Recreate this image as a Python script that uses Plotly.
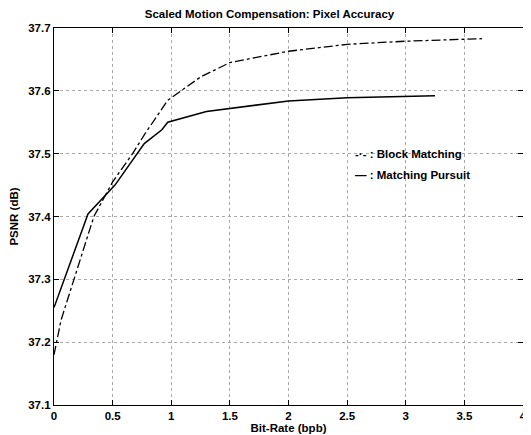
import plotly.graph_objects as go

# Data
bm_rate = [0.0, 0.06, 0.34, 0.5, 0.67, 0.77, 0.97, 1.25, 1.5, 2.0, 2.5, 3.0, 3.65]
bm_psnr = [37.18, 37.235, 37.40, 37.455, 37.50, 37.53, 37.585, 37.622, 37.645, 37.663, 37.674, 37.679, 37.683]

mp_rate = [0.0, 0.29, 0.52, 0.71, 0.77, 0.92, 0.97, 1.3, 1.5, 2.0, 2.5, 3.0, 3.25]
mp_psnr = [37.255, 37.404, 37.45, 37.50, 37.516, 37.538, 37.55, 37.567, 37.572, 37.584, 37.589, 37.591, 37.592]

x_ticks = [0, 0.5, 1, 1.5, 2, 2.5, 3, 3.5, 4]
y_ticks = [37.1, 37.2, 37.3, 37.4, 37.5, 37.6, 37.7]

legend_labels = ["-·- : Block Matching", "— : Matching Pursuit"]

font = dict(family="Liberation Sans, Arial, sans-serif", size=11.5, color="black", weight="bold")

fig = go.Figure()
fig.add_trace(go.Scatter(x=bm_rate, y=bm_psnr, mode="lines", name="Block Matching",
                         line=dict(color="black", width=1.3, dash="dashdot")))
fig.add_trace(go.Scatter(x=mp_rate, y=mp_psnr, mode="lines", name="Matching Pursuit",
                         line=dict(color="black", width=1.5)))

fig.add_annotation(x=2.55, y=37.5, text=legend_labels[0], showarrow=False,
                   xanchor="left", yanchor="middle", font=font)
fig.add_annotation(x=2.55, y=37.466, text=legend_labels[1], showarrow=False,
                   xanchor="left", yanchor="middle", font=font)

axis_common = dict(showline=True, linecolor="black", linewidth=1.3, mirror="ticks",
                   ticks="inside", ticklen=5, tickcolor="black",
                   showgrid=True, gridcolor="#aaa", griddash="dot", gridwidth=1,
                   zeroline=False, tickfont=font, automargin=False,
                   ticklabeloverflow="allow")

fig.update_xaxes(range=[0, 4], tickvals=x_ticks, ticktext=[f"{v:g}" for v in x_ticks],
                 title=dict(text="Bit-Rate (bpb)", font=font, standoff=0), **axis_common)
fig.update_yaxes(range=[37.1, 37.7], tickvals=y_ticks, ticktext=[f"{v:.1f}" for v in y_ticks],
                 title=dict(text="PSNR (dB)", font=font, standoff=10), **axis_common)

fig.update_layout(
    width=523, height=427,
    margin=dict(l=46, r=8, t=20, b=30, autoexpand=False),
    paper_bgcolor="white", plot_bgcolor="white",
    showlegend=False,
    title=dict(text="Scaled Motion Compensation: Pixel Accuracy", x=0.5, xanchor="center",
               y=0.987, yanchor="middle", font=font),
    font=font,
)

fig.write_html("out.html")
